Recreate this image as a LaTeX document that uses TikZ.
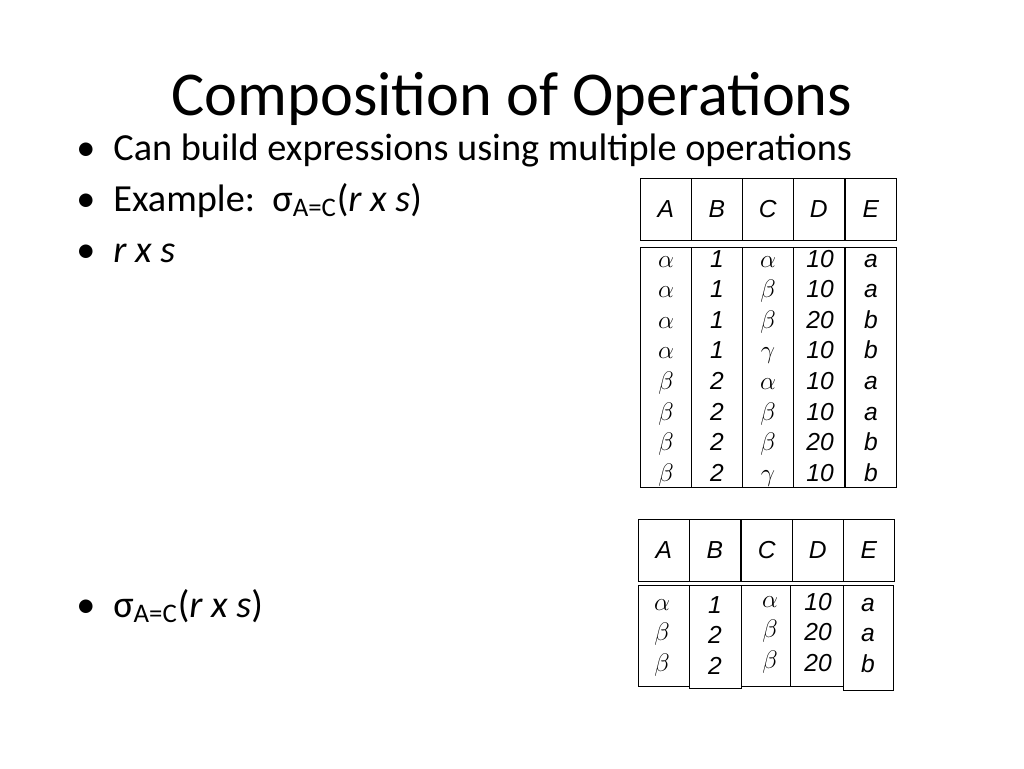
\documentclass[tikz,border=0pt]{standalone}
\usepackage{fontspec}
\setmainfont{Carlito}
\newfontfamily\cellfont{Liberation Sans}
\usetikzlibrary{positioning}
\tikzset{
  head/.style={draw, minimum width=1.02cm, minimum height=1.24cm, inner sep=0pt, font=\cellfont\itshape\fontsize{14}{15}\selectfont},
  cell/.style={inner sep=0pt, text height=1.6ex, text depth=0.4ex, font=\cellfont\itshape\fontsize{14}{15}\selectfont},
  line/.style={anchor=base west, inner sep=0pt, font=\fontsize{21.8}{24}\selectfont}
}
\newcommand{\sel}{σ\textsubscript{A=C}(\textit{r x s})}
\begin{document}
\begin{tikzpicture}[x=0.02cm,y=-0.02cm]
\useasboundingbox (0,0) rectangle (1024,768);

% title and bullets
\node[anchor=base, inner sep=0pt, font=\fontsize{35.5}{38}\selectfont] (title) at (512,115) {Composition of Operations};
\node[line] (b1) at (76,160) {•};
\node[line] (l1) at (113,160) {Can build expressions using multiple operations};
\node[line] (b2) at (76,211) {•};
\node[line] (l2) at (113,211) {Example:\ \ \sel};
\node[line] (b3) at (76,262) {•};
\node[line] (l3) at (113,262) {\textit{r x s}};
\node[line] (b4) at (76,617) {•};
\node[line] (l4) at (113,617) {\sel};

% first table
\foreach \n/\x in {A/640,B/691,C/742,D/793,E/845}
  \node[head, anchor=north west] (h\n) at (\x,178) {\n};
\foreach \x in {640,691,742,793,845}
  \draw (\x,247) rectangle +(51,240);
\foreach \a/\b/\c/\d/\e [count=\i] in {
  \alpha/1/\alpha/10/a, \alpha/1/\beta/10/a, \alpha/1/\beta/20/b, \alpha/1/\gamma/10/b,
  \beta/2/\alpha/10/a, \beta/2/\beta/10/a, \beta/2/\beta/20/b, \beta/2/\gamma/10/b} {
  \pgfmathsetmacro{\y}{262+30.6*(\i-1)}
  \node[cell] (ra\i) at (666,\y) {$\a$};
  \node[cell] (rb\i) at (717,\y) {\b};
  \node[cell] (rc\i) at (768,\y) {$\c$};
  \node[cell] (rd\i) at (820,\y) {\d};
  \node[cell] (re\i) at (871,\y) {\e};
}

% second table
\foreach \n/\x in {A/638,B/689,C/741,D/792,E/843}
  \node[head, anchor=north west] (k\n) at (\x,519) {\n};
\draw (638,585) rectangle (689,686);
\draw (689,585) rectangle (741,688);
\draw (741,585) rectangle (790,686);
\draw (790,585) rectangle (843,686);
\draw (843,585) rectangle (893,690);
\foreach \a/\b/\c/\d/\e [count=\i] in {\alpha/1/\alpha/10/a, \beta/2/\beta/20/a, \beta/2/\beta/20/b} {
  \pgfmathsetmacro{\y}{30.5*(\i-1)}
  \node[cell] (sa\i) at (662,605+\y) {$\a$};
  \node[cell] (sb\i) at (715,608+\y) {\b};
  \node[cell] (sc\i) at (770,602+\y) {$\c$};
  \node[cell] (sd\i) at (818,605+\y) {\d};
  \node[cell] (se\i) at (868,606+\y) {\e};
}
\end{tikzpicture}
\end{document}
